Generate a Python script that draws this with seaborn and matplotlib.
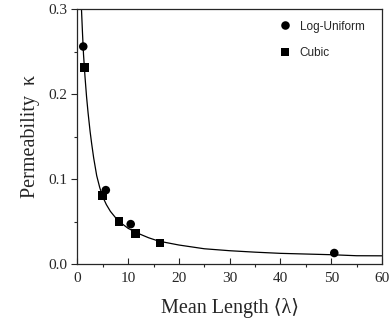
import numpy as np
import pandas as pd
import matplotlib
matplotlib.use("Agg")
import matplotlib.pyplot as plt
from matplotlib.ticker import MultipleLocator
import seaborn as sns

sns.set_style("ticks")
plt.rcParams['font.family'] = ['Liberation Serif', 'DejaVu Serif']

# Simulation points
log_uniform_len = [1.15, 5.6, 10.5, 50.6]
log_uniform_k = [0.256, 0.087, 0.047, 0.013]
cubic_len = [1.4, 4.9, 8.2, 11.4, 16.3]
cubic_k = [0.231, 0.081, 0.050, 0.036, 0.025]

# Fitted curve
curve_len = [0.8, 1.0, 1.2, 1.5, 1.8, 2.1, 2.5, 2.8, 3.2, 3.8, 4.4, 5.0, 5.7, 6.5,
             8.0, 10.0, 12.0, 14.0, 16.0, 20.0, 25.0, 30.0, 35.0, 40.0, 45.0,
             50.0, 55.0, 60.0]
curve_k = [0.300, 0.272, 0.247, 0.220, 0.197, 0.178, 0.156, 0.142, 0.125, 0.104,
           0.090, 0.079, 0.070, 0.062, 0.051, 0.042, 0.036, 0.031, 0.027, 0.0224,
           0.018, 0.0157, 0.014, 0.0126, 0.0118, 0.011, 0.0098, 0.0097]

points = pd.DataFrame({
    "length": log_uniform_len + cubic_len,
    "k": log_uniform_k + cubic_k,
    "model": ["Log-Uniform"] * len(log_uniform_len) + ["Cubic"] * len(cubic_len),
})
curve = pd.DataFrame({"length": curve_len, "k": curve_k})

fig = plt.figure(figsize=(3.89, 3.26), dpi=100)
ax = fig.add_axes([0.199, 0.190, 0.783, 0.782])

sns.lineplot(data=curve, x="length", y="k", color="black", linewidth=0.9, ax=ax)
sns.scatterplot(data=points, x="length", y="k", style="model",
                markers={"Log-Uniform": "o", "Cubic": "s"},
                color="black", s=38, edgecolor="black", linewidth=0, ax=ax)

ax.set_xlim(0, 60)
ax.set_ylim(0, 0.3)
ax.xaxis.set_major_locator(MultipleLocator(10))
ax.xaxis.set_minor_locator(MultipleLocator(5))
ax.yaxis.set_major_locator(MultipleLocator(0.1))
ax.yaxis.set_minor_locator(MultipleLocator(0.05))
ax.yaxis.set_major_formatter(matplotlib.ticker.FormatStrFormatter("%.1f"))
ax.tick_params(axis="both", which="major", labelsize=11, length=4, width=0.8)
ax.tick_params(axis="both", which="minor", length=2.5, width=0.8)
ax.tick_params(axis="x", direction="in", pad=6)
ax.tick_params(axis="y", direction="out")
for sp in ax.spines.values():
    sp.set_visible(True)
    sp.set_linewidth(0.9)

ax.set_xlabel("Mean Length ⟨λ⟩", fontsize=14.5, labelpad=9)
ax.set_ylabel("Permeability  κ", fontsize=14.5, labelpad=6)

leg = ax.legend(loc="upper left", bbox_to_anchor=(0.662, 0.955), frameon=False,
                title=None, prop={"family": "Liberation Sans", "size": 8.5},
                handlelength=1.0, handletextpad=0.75, labelspacing=1.2,
                borderpad=0, borderaxespad=0)

fig.savefig("out.png", dpi=100)
